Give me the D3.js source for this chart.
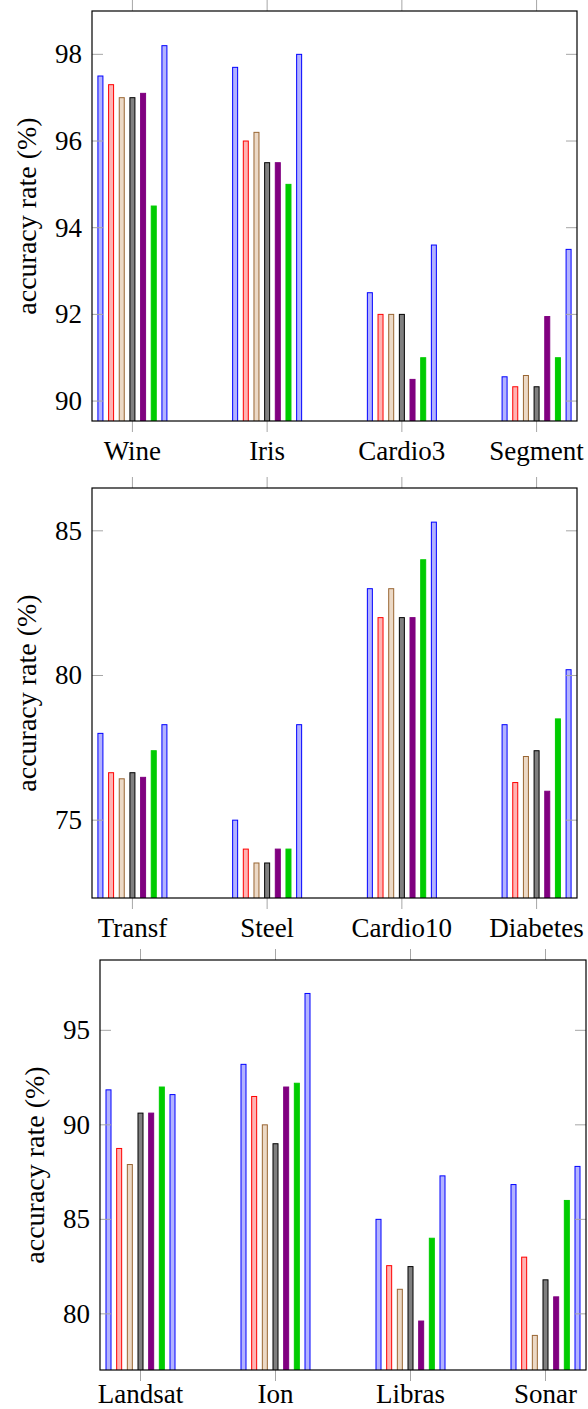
<!DOCTYPE html>
<html>
<head>
<meta charset="utf-8">
<script src="https://cdn.jsdelivr.net/npm/d3@7"></script>
<style>
  html, body { margin: 0; padding: 0; background: #fff; }
  svg text { font-family: "Liberation Serif", "Times New Roman", serif; fill: #000; }
</style>
</head>
<body>
<div id="chart"></div>
<script>
// data: one row per category, 7 values per row (series order below)
const catsA = ["Wine", "Iris", "Cardio3", "Segment"];
const valsA = [
  [97.5, 97.3, 97.0, 97.0, 97.1, 94.5, 98.2],
  [97.7, 96.0, 96.2, 95.5, 95.5, 95.0, 98.0],
  [92.5, 92.0, 92.0, 92.0, 90.5, 91.0, 93.6],
  [90.56, 90.33, 90.59, 90.33, 91.95, 91.0, 93.5]
];
const ticksA = [90, 92, 94, 96, 98];

const catsB = ["Transf", "Steel", "Cardio10", "Diabetes"];
const valsB = [
  [78.0, 76.64, 76.43, 76.64, 76.48, 77.4, 78.3],
  [75.0, 74.0, 73.52, 73.52, 74.0, 74.0, 78.3],
  [83.0, 82.0, 83.0, 82.0, 82.0, 84.0, 85.3],
  [78.3, 76.3, 77.2, 77.4, 76.0, 78.5, 80.2]
];
const ticksB = [75, 80, 85];

const catsC = ["Landsat", "Ion", "Libras", "Sonar"];
const valsC = [
  [91.85, 88.75, 87.9, 90.62, 90.62, 92.0, 91.6],
  [93.2, 91.5, 90.0, 89.0, 92.0, 92.2, 96.95],
  [85.0, 82.55, 81.3, 82.5, 79.62, 84.0, 87.3],
  [86.84, 83.0, 78.86, 81.8, 80.9, 86.0, 87.8]
];
const ticksC = [80, 85, 90, 95];

const seriesStroke = ["#0000ff", "#ff0000", "#996633", "#000000", "#800080", "#00cc00", "#0000ff"];
const seriesFill   = ["#b3b3ff", "#ffb3b3", "#ecd9c6", "#808080", "#800080", "#00cc00", "#b3b3ff"];

const W = 588, H = 1409;
const fontSize = 27;
const labelSize = 28;
const tickLen = 11;
const tickColor = "#a6a6a6";

const svg = d3.select("#chart").append("svg")
  .attr("width", W).attr("height", H)
  .attr("viewBox", `0 0 ${W} ${H}`);

const panels = [
  {cats: catsA, vals: valsA, ticks: ticksA, box: {l: 92, r: 577, t: 11, b: 421}, ydom: [89.54, 99.0], lab: 39},
  {cats: catsB, vals: valsB, ticks: ticksB, box: {l: 92, r: 577, t: 488, b: 898}, ydom: [72.31, 86.48], lab: 39},
  {cats: catsC, vals: valsC, ticks: ticksC, box: {l: 100, r: 586, t: 960, b: 1370}, ydom: [77.03, 98.72], lab: 33}
];

panels.forEach((p, pi) => {
  const box = p.box;
  const x = d3.scaleLinear().domain([-0.3, p.cats.length - 0.7]).range([box.l, box.r]);
  const y = d3.scaleLinear().domain(p.ydom).range([box.b, box.t]);
  const off = d3.scalePoint().domain(d3.range(7)).range([-32, 32]);
  const barW = 5;

  const g = svg.append("g").attr("class", "panel");

  const clipId = "clip" + pi;
  g.append("clipPath").attr("id", clipId)
    .append("rect")
      .attr("x", box.l).attr("y", box.t)
      .attr("width", box.r - box.l).attr("height", box.b - box.t);

  // bars
  const groups = g.append("g").attr("clip-path", `url(#${clipId})`)
    .selectAll("g.cat")
    .data(p.vals)
    .join("g")
      .attr("class", "cat")
      .attr("transform", (d, i) => `translate(${x(i)},0)`);

  groups.selectAll("rect")
    .data(d => d)
    .join("rect")
      .attr("x", (d, j) => off(j) - barW / 2)
      .attr("y", d => y(d))
      .attr("width", barW)
      .attr("height", d => box.b + 5 - y(d))
      .attr("fill", (d, j) => seriesFill[j])
      .attr("stroke", (d, j) => seriesStroke[j])
      .attr("stroke-width", 1);

  // y ticks (inside, both sides)
  const yt = g.append("g");
  yt.selectAll("line.l").data(p.ticks).join("line")
    .attr("x1", box.l).attr("x2", box.l + tickLen)
    .attr("y1", d => y(d)).attr("y2", d => y(d))
    .attr("stroke", tickColor).attr("stroke-width", 1);
  yt.selectAll("line.r").data(p.ticks).join("line")
    .attr("x1", box.r).attr("x2", box.r - tickLen)
    .attr("y1", d => y(d)).attr("y2", d => y(d))
    .attr("stroke", tickColor).attr("stroke-width", 1);
  yt.selectAll("text").data(p.ticks).join("text")
    .attr("x", box.l - 10)
    .attr("y", d => y(d))
    .attr("dy", "0.33em")
    .attr("text-anchor", "end")
    .style("font-size", fontSize + "px")
    .text(d => d);

  // x ticks (outside, top and bottom)
  const xt = g.append("g");
  xt.selectAll("line.b").data(p.cats).join("line")
    .attr("x1", (d, i) => x(i)).attr("x2", (d, i) => x(i))
    .attr("y1", box.b).attr("y2", box.b + tickLen)
    .attr("stroke", tickColor).attr("stroke-width", 1);
  xt.selectAll("line.t").data(p.cats).join("line")
    .attr("x1", (d, i) => x(i)).attr("x2", (d, i) => x(i))
    .attr("y1", box.t).attr("y2", box.t - tickLen)
    .attr("stroke", tickColor).attr("stroke-width", 1);
  xt.selectAll("text").data(p.cats).join("text")
    .attr("x", (d, i) => x(i))
    .attr("y", box.b + p.lab)
    .attr("text-anchor", "middle")
    .style("font-size", fontSize + "px")
    .text(d => d);

  // frame
  g.append("rect")
    .attr("x", box.l).attr("y", box.t)
    .attr("width", box.r - box.l).attr("height", box.b - box.t)
    .attr("fill", "none").attr("stroke", "#000").attr("stroke-width", 1.2);

  // y label
  g.append("text")
    .attr("transform", `translate(${box.l - 66},${(box.t + box.b) / 2}) rotate(-90)`)
    .attr("text-anchor", "middle")
    .attr("dy", "0.34em")
    .style("font-size", labelSize + "px")
    .text("accuracy rate (%)");
});
</script>
</body>
</html>
